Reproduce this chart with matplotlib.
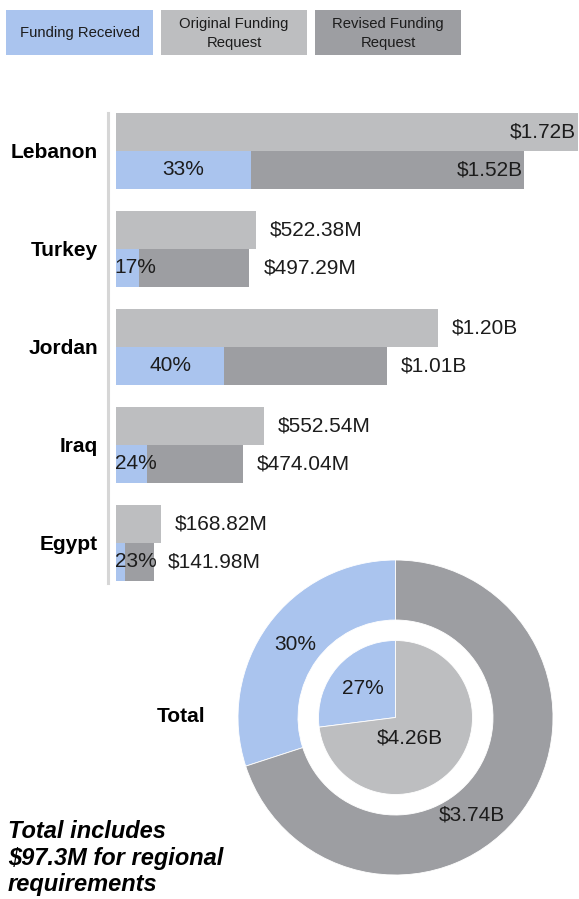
import matplotlib
matplotlib.use('Agg')
import matplotlib.pyplot as plt
from matplotlib.patches import Rectangle
from matplotlib.lines import Line2D
import numpy as np

plt.rcParams['font.family'] = ['Liberation Sans', 'DejaVu Sans']

# colours
BLUE = '#aac4ee'
LIGHT = '#bdbec0'
DARK = '#9d9ea2'
INK = '#1c1c1c'

countries = ['Lebanon', 'Turkey', 'Jordan', 'Iraq', 'Egypt']
original = [1.72, 0.52238, 1.20, 0.55254, 0.16882]      # billions USD
revised = [1.52, 0.49729, 1.01, 0.47404, 0.14198]       # billions USD
received_pct = [33, 17, 40, 24, 23]                     # % of revised request
original_lbl = ['$1.72B', '$522.38M', '$1.20B', '$552.54M', '$168.82M']
revised_lbl = ['$1.52B', '$497.29M', '$1.01B', '$474.04M', '$141.98M']

total_original = 4.26
total_revised = 3.74
total_pct_original = 27
total_pct_revised = 30

W, H = 579, 899
fig = plt.figure(figsize=(W / 100, H / 100), dpi=100)
fig.patch.set_facecolor('white')


def fx(px):
    return px / W


def fy(py):
    return 1 - py / H


# legend boxes across the top
legend = [('Funding Received', BLUE, 6, 153),
          ('Original Funding\nRequest', LIGHT, 161, 307),
          ('Revised Funding\nRequest', DARK, 315, 461)]
for label, col, x0, x1 in legend:
    fig.add_artist(Rectangle((fx(x0), fy(55)), fx(x1 - x0), 45 / H,
                             transform=fig.transFigure, facecolor=col, edgecolor='none'))
    fig.text(fx((x0 + x1) / 2), fy(33.5), label, ha='center', va='center',
             fontsize=10.7, color=INK, linespacing=1.45)

# horizontal bars
ax = fig.add_axes([fx(116), fy(590), fx(W - 116), (590 - 100) / H])
y = np.arange(len(countries))
bh = 38 / 98
ax.barh(y - bh / 2, original, height=bh, color=LIGHT, edgecolor='none')
ax.barh(y + bh / 2, revised, height=bh, color=DARK, edgecolor='none')
received = [r * p / 100 for r, p in zip(revised, received_pct)]
ax.barh(y + bh / 2, received, height=bh, color=BLUE, edgecolor='none')

ax.set_xlim(0, 1.725)
ax.set_ylim(4.48, -0.52)
ax.set_yticks(y, countries, fontsize=15, fontweight='bold', color='black')
ax.tick_params(axis='y', length=0, pad=13)
ax.set_xticks([])
for s in ax.spines.values():
    s.set_visible(False)

for i in range(len(countries)):
    # request values: outside the bar end, or inside when the bar is too long
    for val, lbl, yy in ((original[i], original_lbl[i], y[i] - bh / 2),
                         (revised[i], revised_lbl[i], y[i] + bh / 2)):
        if val > 1.5:
            ax.annotate(lbl, (val, yy), xytext=(-1, 0), textcoords='offset points',
                        ha='right', va='center', fontsize=15, color=INK)
        else:
            ax.annotate(lbl, (val, yy), xytext=(10, 0), textcoords='offset points',
                        ha='left', va='center', fontsize=15, color=INK)
    pct = f'{received_pct[i]}%'
    if received[i] > 0.2:
        ax.text(received[i] / 2, y[i] + bh / 2, pct, ha='center', va='center',
                fontsize=15, color=INK)
    else:
        ax.annotate(pct, (0, y[i] + bh / 2), xytext=(-1, 0), textcoords='offset points',
                    ha='left', va='center', fontsize=15, color=INK)

# thin divider left of the bars
fig.add_artist(Line2D([fx(107.5), fx(107.5)], [fy(113), fy(583)],
                      transform=fig.transFigure, color='#d6d6d6', linewidth=2.2))

# totals donut: outer ring = revised, inner pie = original
R = 157.5
cx, cy = 395.5, 717.5
half = 1.05 * R
pax = fig.add_axes([fx(cx - half), fy(cy + half), 2 * half / W, 2 * half / H])
pax.pie([total_pct_revised, 100 - total_pct_revised], radius=1, startangle=90,
        colors=[BLUE, DARK], wedgeprops=dict(width=60 / R, edgecolor='white', linewidth=0.6))
r_in = 77 / R
pax.pie([total_pct_original, 100 - total_pct_original], radius=r_in, startangle=90,
        colors=[BLUE, LIGHT], wedgeprops=dict(edgecolor='white', linewidth=0.6))
pax.set_xlim(-1.05, 1.05)
pax.set_ylim(-1.05, 1.05)
pax.set_aspect('equal')
pax.axis('off')


def polar_text(r, deg, s):
    a = np.deg2rad(deg)
    pax.text(r * np.cos(a), r * np.sin(a), s, ha='center', va='center',
             fontsize=15, color=INK)


polar_text(0.79, 90 + total_pct_revised * 1.8, f'{total_pct_revised}%')
polar_text(0.785, -52, f'${total_revised:.2f}B')
polar_text(0.28, 90 + total_pct_original * 1.8, f'{total_pct_original}%')
polar_text(0.16, -55, f'${total_original:.2f}B')

fig.text(fx(205), fy(717), 'Total', ha='right', va='center', fontsize=15,
         fontweight='bold', color='black')

fig.text(fx(8), fy(820), 'Total includes\n$97.3M for regional\nrequirements',
         ha='left', va='top', fontsize=17, fontweight='bold', fontstyle='italic',
         color='black', linespacing=1.2)

fig.savefig('out.png', dpi=100, facecolor='white')
plt.close(fig)
